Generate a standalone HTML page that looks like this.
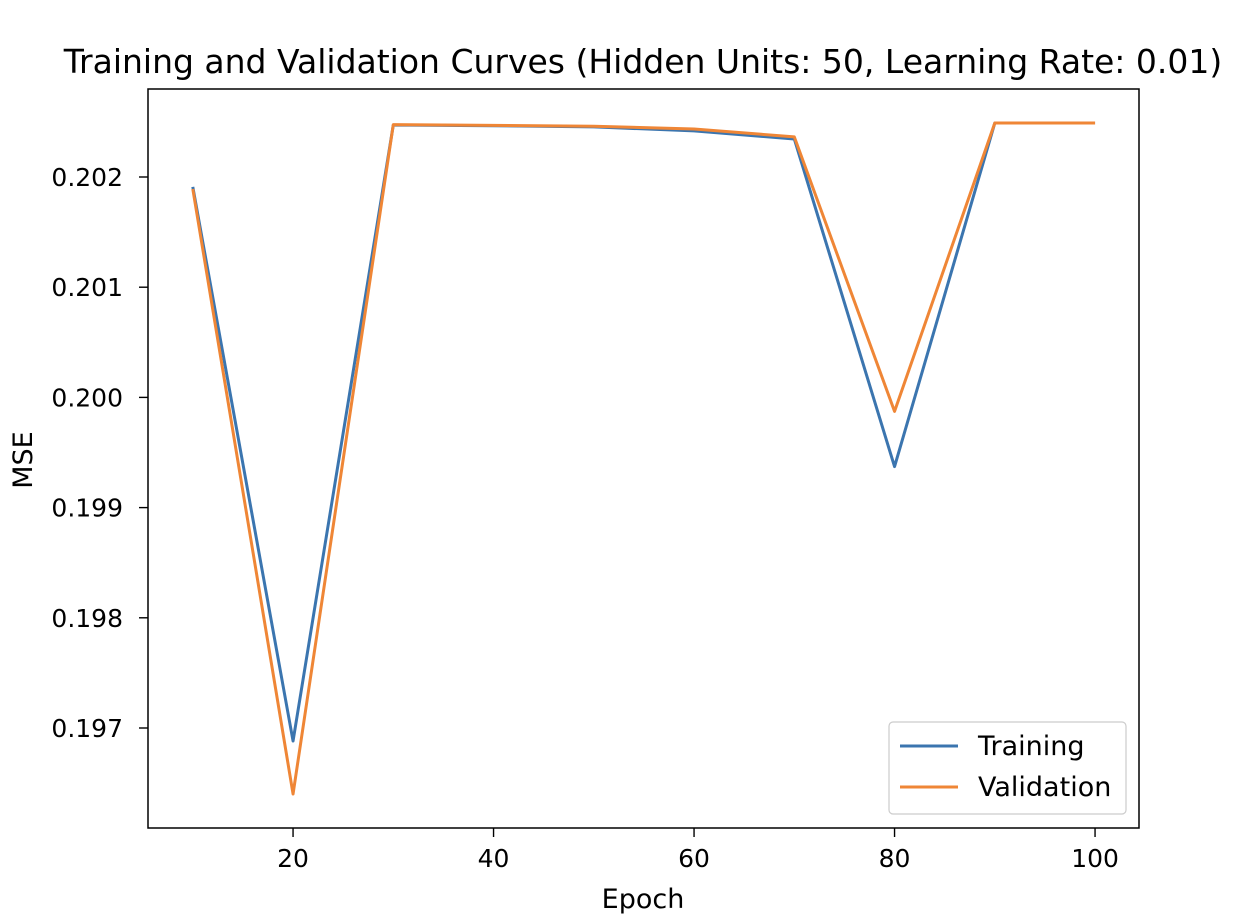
<!DOCTYPE html>
<html><head><meta charset="utf-8"><style>
body{margin:0;background:#fff}
svg{display:block;font-family:"DejaVu Sans","Liberation Sans",sans-serif}
</style></head><body>
<svg id="chart" width="1248" height="924">
<text x="643" y="73" text-anchor="middle" font-size="33">Training and Validation Curves (Hidden Units: 50, Learning Rate: 0.01)</text>
<g id="plot"></g>
<rect x="148" y="89" width="991" height="739" fill="none" stroke="#000" stroke-width="1.5"/>
<text x="643" y="908" text-anchor="middle" font-size="27">Epoch</text>
<text transform="translate(32,460) rotate(-90)" text-anchor="middle" font-size="27">MSE</text>
<g>
<rect x="889" y="722" width="237" height="92" rx="4" fill="#fff" stroke="#ccc" stroke-width="1.2"/>
<line x1="900" y1="746" x2="958" y2="746" stroke="#3b75af" stroke-width="3"/>
<text x="978" y="755" font-size="27">Training</text>
<line x1="900" y1="787" x2="958" y2="787" stroke="#ef8636" stroke-width="3"/>
<text x="978" y="796" font-size="27">Validation</text>
</g>
</svg>
<script>
const epochs=[10,20,30,40,50,60,70,80,90,100];
const training=[0.20191,0.196882,0.202472,0.202465,0.202455,0.202418,0.202345,0.199372,0.20249,0.20249];
const validation=[0.201891,0.196401,0.202475,0.202468,0.20246,0.202436,0.202364,0.199873,0.20249,0.20249];
const xTicks=[20,40,60,80,100];
const yTicks=[0.197,0.198,0.199,0.200,0.201,0.202];
const xs=v=>192.8+(v-10)*10.025;
const ys=v=>177-(v-0.202)*110200;
const g=document.getElementById('plot');
const NS='http://www.w3.org/2000/svg';
function mk(t,a){const e=document.createElementNS(NS,t);for(const k in a)e.setAttribute(k,a[k]);g.appendChild(e);return e;}
xTicks.forEach(t=>{
 const l=mk('line',{x1:xs(t),x2:xs(t),y1:828,y2:837,stroke:'#000','stroke-width':1.4});
 
 
 const tx=mk('text',{x:xs(t),y:867,'text-anchor':'middle','font-size':25});
 tx.textContent=t;
 
 
});
yTicks.forEach(t=>{
 const l=mk('line',{x1:139,x2:148,y1:ys(t),y2:ys(t),stroke:'#000','stroke-width':1.4});
 
 
 const tx=mk('text',{x:123,y:ys(t)+9,'text-anchor':'end','font-size':25});
 tx.textContent=t.toFixed(3);
 
 
});
function line(data,color,name){
 const p=mk('polyline',{points:data.map((v,i)=>xs(epochs[i])+','+ys(v)).join(' '),fill:'none',stroke:color,'stroke-width':3,'stroke-linejoin':'round'});
 
 
}
line(training,'#3b75af','training-line');
line(validation,'#ef8636','validation-line');
</script>
</body></html>
